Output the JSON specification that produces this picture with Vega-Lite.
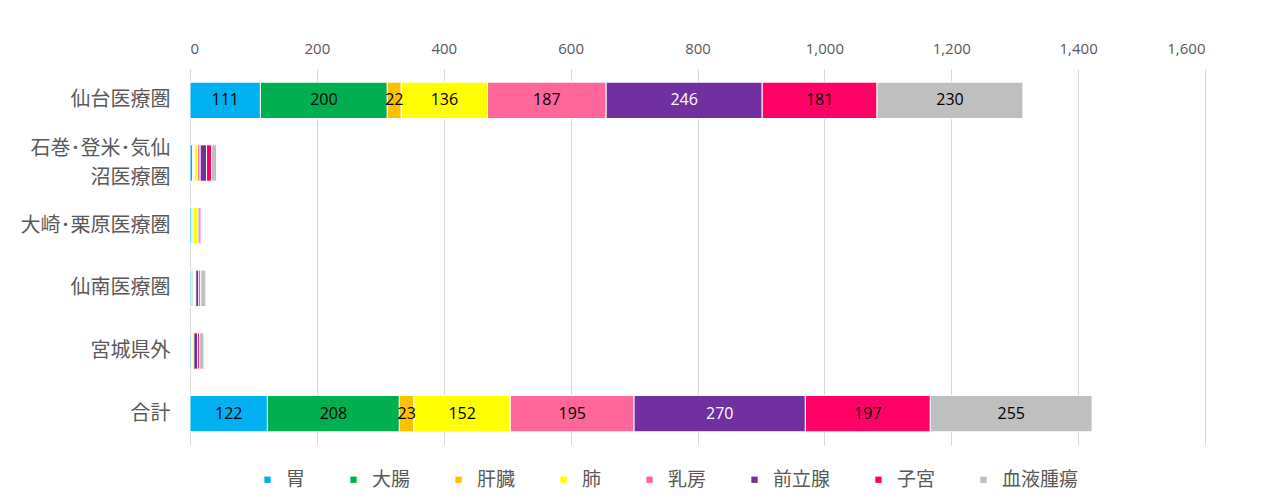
{
  "$schema": "https://vega.github.io/schema/vega-lite/v6.json",
  "width": 1015,
  "height": 376,
  "autosize": {"type": "none"},
  "padding": {"left": 190, "top": 69, "right": 74, "bottom": 59},
  "background": "white",
  "config": {
    "font": "Noto Sans CJK JP",
    "view": {"stroke": null}
  },
  "data": {
    "values": [
      {"region": "仙台医療圏", "cancer": "胃", "value": 111},
      {"region": "仙台医療圏", "cancer": "大腸", "value": 200},
      {"region": "仙台医療圏", "cancer": "肝臓", "value": 22},
      {"region": "仙台医療圏", "cancer": "肺", "value": 136},
      {"region": "仙台医療圏", "cancer": "乳房", "value": 187},
      {"region": "仙台医療圏", "cancer": "前立腺", "value": 246},
      {"region": "仙台医療圏", "cancer": "子宮", "value": 181},
      {"region": "仙台医療圏", "cancer": "血液腫瘍", "value": 230},
      {"region": "石巻･登米･気仙沼医療圏", "cancer": "胃", "value": 4},
      {"region": "石巻･登米･気仙沼医療圏", "cancer": "大腸", "value": 2},
      {"region": "石巻･登米･気仙沼医療圏", "cancer": "肝臓", "value": 1},
      {"region": "石巻･登米･気仙沼医療圏", "cancer": "肺", "value": 5},
      {"region": "石巻･登米･気仙沼医療圏", "cancer": "乳房", "value": 4},
      {"region": "石巻･登米･気仙沼医療圏", "cancer": "前立腺", "value": 10},
      {"region": "石巻･登米･気仙沼医療圏", "cancer": "子宮", "value": 8},
      {"region": "石巻･登米･気仙沼医療圏", "cancer": "血液腫瘍", "value": 8},
      {"region": "大崎･栗原医療圏", "cancer": "胃", "value": 3},
      {"region": "大崎･栗原医療圏", "cancer": "大腸", "value": 2},
      {"region": "大崎･栗原医療圏", "cancer": "肝臓", "value": 0},
      {"region": "大崎･栗原医療圏", "cancer": "肺", "value": 7},
      {"region": "大崎･栗原医療圏", "cancer": "乳房", "value": 1},
      {"region": "大崎･栗原医療圏", "cancer": "前立腺", "value": 3},
      {"region": "大崎･栗原医療圏", "cancer": "子宮", "value": 2},
      {"region": "大崎･栗原医療圏", "cancer": "血液腫瘍", "value": 2},
      {"region": "仙南医療圏", "cancer": "胃", "value": 2},
      {"region": "仙南医療圏", "cancer": "大腸", "value": 3},
      {"region": "仙南医療圏", "cancer": "肝臓", "value": 0},
      {"region": "仙南医療圏", "cancer": "肺", "value": 2},
      {"region": "仙南医療圏", "cancer": "乳房", "value": 2},
      {"region": "仙南医療圏", "cancer": "前立腺", "value": 5},
      {"region": "仙南医療圏", "cancer": "子宮", "value": 3},
      {"region": "仙南医療圏", "cancer": "血液腫瘍", "value": 8},
      {"region": "宮城県外", "cancer": "胃", "value": 2},
      {"region": "宮城県外", "cancer": "大腸", "value": 1},
      {"region": "宮城県外", "cancer": "肝臓", "value": 0},
      {"region": "宮城県外", "cancer": "肺", "value": 2},
      {"region": "宮城県外", "cancer": "乳房", "value": 1},
      {"region": "宮城県外", "cancer": "前立腺", "value": 6},
      {"region": "宮城県外", "cancer": "子宮", "value": 3},
      {"region": "宮城県外", "cancer": "血液腫瘍", "value": 7},
      {"region": "合計", "cancer": "胃", "value": 122},
      {"region": "合計", "cancer": "大腸", "value": 208},
      {"region": "合計", "cancer": "肝臓", "value": 23},
      {"region": "合計", "cancer": "肺", "value": 152},
      {"region": "合計", "cancer": "乳房", "value": 195},
      {"region": "合計", "cancer": "前立腺", "value": 270},
      {"region": "合計", "cancer": "子宮", "value": 197},
      {"region": "合計", "cancer": "血液腫瘍", "value": 255}
    ]
  },
  "transform": [
    {"calculate": "indexof(['胃','大腸','肝臓','肺','乳房','前立腺','子宮','血液腫瘍'], datum.cancer)", "as": "ord"},
    {"stack": "value", "groupby": ["region"], "sort": [{"field": "ord", "order": "ascending"}], "as": ["v0", "v1"]},
    {"calculate": "(datum.v0 + datum.v1) / 2", "as": "mid"}
  ],
  "encoding": {
    "y": {
      "field": "region",
      "type": "nominal",
      "sort": ["仙台医療圏", "石巻･登米･気仙沼医療圏", "大崎･栗原医療圏", "仙南医療圏", "宮城県外", "合計"],
      "scale": {"paddingInner": 0.42, "paddingOuter": 0.21},
      "axis": {
        "title": null,
        "ticks": false,
        "domainColor": "#d9d9d9",
        "domainWidth": 1,
        "labelFontSize": 20,
        "labelColor": "#595959",
        "labelPadding": 20,
        "labelLineHeight": 29,
        "labelOffset": {"condition": {"test": "datum.value == '石巻･登米･気仙沼医療圏'", "value": -14}, "value": 0},
        "labelExpr": "datum.value == '石巻･登米･気仙沼医療圏' ? ['石巻･登米･気仙', '沼医療圏'] : datum.value"
      }
    }
  },
  "layer": [
    {
      "mark": {"type": "bar", "stroke": "white", "strokeWidth": 1},
      "encoding": {
        "x": {
          "field": "v0",
          "type": "quantitative",
          "scale": {"domain": [0, 1600], "nice": false},
          "axis": {
            "orient": "top",
            "title": null,
            "values": [0, 200, 400, 600, 800, 1000, 1200, 1400, 1600],
            "format": ",.0f",
            "domain": false,
            "ticks": false,
            "gridColor": "#d9d9d9",
            "labelFont": "Open Sans",
            "labelFontSize": 15,
            "labelColor": "#595959",
            "labelPadding": 13
          }
        },
        "x2": {"field": "v1"},
        "color": {
          "field": "cancer",
          "type": "nominal",
          "scale": {
            "domain": ["胃", "大腸", "肝臓", "肺", "乳房", "前立腺", "子宮", "血液腫瘍"],
            "range": ["#00b0f0", "#00b050", "#ffc000", "#ffff00", "#ff6699", "#7030a0", "#ff0066", "#bfbfbf"]
          },
          "legend": {
            "title": null,
            "orient": "none",
            "direction": "horizontal",
            "columns": 8,
            "legendX": 68,
            "legendY": 401,
            "symbolType": "square",
            "symbolSize": 40,
            "symbolStrokeWidth": 0,
            "labelFontSize": 19,
            "labelColor": "#595959",
            "columnPadding": 38,
            "labelOffset": 9
          }
        }
      }
    },
    {
      "transform": [{"filter": "datum.value >= 15"}],
      "mark": {"type": "text", "fontSize": 16, "font": "Open Sans"},
      "encoding": {
        "x": {"field": "mid", "type": "quantitative"},
        "text": {"field": "value", "type": "quantitative"},
        "color": {
          "condition": {"test": "datum.cancer == '前立腺'", "value": "white"},
          "value": "black"
        }
      }
    }
  ]
}
